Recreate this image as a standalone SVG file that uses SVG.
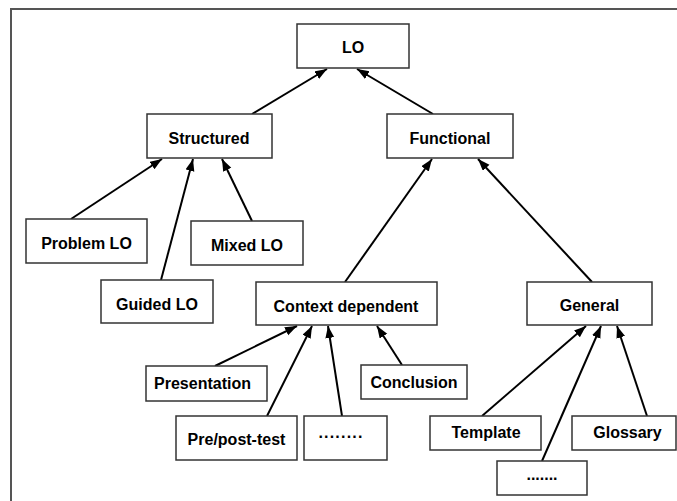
<svg xmlns="http://www.w3.org/2000/svg" width="677" height="501" viewBox="0 0 677 501">
<style>
.box{fill:#fff;stroke:#333;stroke-width:1.5}
.lbl{font-family:"Liberation Sans",Arial,sans-serif;font-weight:bold;font-size:16px;fill:#000;text-anchor:middle}
.con{stroke:#000;stroke-width:2;fill:none;marker-end:url(#ah)}
</style>
<defs>
<marker id="ah" markerUnits="userSpaceOnUse" markerWidth="13" markerHeight="10" refX="12" refY="4.5" orient="auto">
<path d="M0,0 L12,4.5 L0,9 z" fill="#000"/>
</marker>
</defs>
<rect width="677" height="501" fill="#fff"/>
<path d="M11,501 V9 H677" fill="none" stroke="#555" stroke-width="2"/>
<g id="connectors">
<line class="con" x1="252" y1="114" x2="327" y2="69"/>
<line class="con" x1="433" y1="114" x2="357" y2="69"/>
<line class="con" x1="71" y1="219" x2="162" y2="159"/>
<line class="con" x1="161" y1="280" x2="193" y2="159"/>
<line class="con" x1="252" y1="221" x2="222" y2="159"/>
<line class="con" x1="345" y1="282" x2="432" y2="159"/>
<line class="con" x1="592" y1="282" x2="478" y2="159"/>
<line class="con" x1="215" y1="366" x2="297" y2="326"/>
<line class="con" x1="267" y1="416" x2="312" y2="326"/>
<line class="con" x1="342" y1="416" x2="328" y2="326"/>
<line class="con" x1="402" y1="365" x2="377" y2="326"/>
<line class="con" x1="482" y1="416" x2="586" y2="326"/>
<line class="con" x1="542" y1="461" x2="601" y2="326"/>
<line class="con" x1="647" y1="416" x2="617" y2="326"/>
</g>
<g id="n-lo"><rect class="box" x="297" y="24" width="112" height="44"/><text class="lbl" x="353" y="52.5">LO</text></g>
<g id="n-structured"><rect class="box" x="147" y="114" width="125" height="44"/><text class="lbl" x="209" y="144">Structured</text></g>
<g id="n-functional"><rect class="box" x="387" y="114" width="126" height="44"/><text class="lbl" x="450" y="144">Functional</text></g>
<g id="n-problem"><rect class="box" x="26" y="219" width="121" height="44"/><text class="lbl" x="86.5" y="249">Problem LO</text></g>
<g id="n-mixed"><rect class="box" x="191" y="221" width="112" height="44"/><text class="lbl" x="247" y="250.5">Mixed LO</text></g>
<g id="n-guided"><rect class="box" x="101" y="280" width="112" height="43"/><text class="lbl" x="157" y="310">Guided LO</text></g>
<g id="n-context"><rect class="box" x="256" y="282" width="181" height="43"/><text class="lbl" x="346" y="311.5">Context dependent</text></g>
<g id="n-general"><rect class="box" x="527" y="282" width="125" height="43"/><text class="lbl" x="589.5" y="311">General</text></g>
<g id="n-presentation"><rect class="box" x="146" y="366" width="121" height="35"/><text class="lbl" x="202.5" y="389">Presentation</text></g>
<g id="n-prepost"><rect class="box" x="176" y="416" width="121" height="44"/><text class="lbl" x="236.5" y="445">Pre/post-test</text></g>
<g id="n-dots1"><rect class="box" x="304" y="416" width="83" height="44"/><text class="lbl" x="341" y="438" letter-spacing="1.2">........</text></g>
<g id="n-conclusion"><rect class="box" x="361" y="365" width="106" height="34"/><text class="lbl" x="414" y="388">Conclusion</text></g>
<g id="n-template"><rect class="box" x="430" y="416" width="111" height="34"/><text class="lbl" x="486" y="437.5">Template</text></g>
<g id="n-glossary"><rect class="box" x="572" y="416" width="104" height="34"/><text class="lbl" x="627.5" y="438">Glossary</text></g>
<g id="n-dots2"><rect class="box" x="497" y="461" width="90" height="34"/><text class="lbl" x="542" y="480">.......</text></g>
</svg>
